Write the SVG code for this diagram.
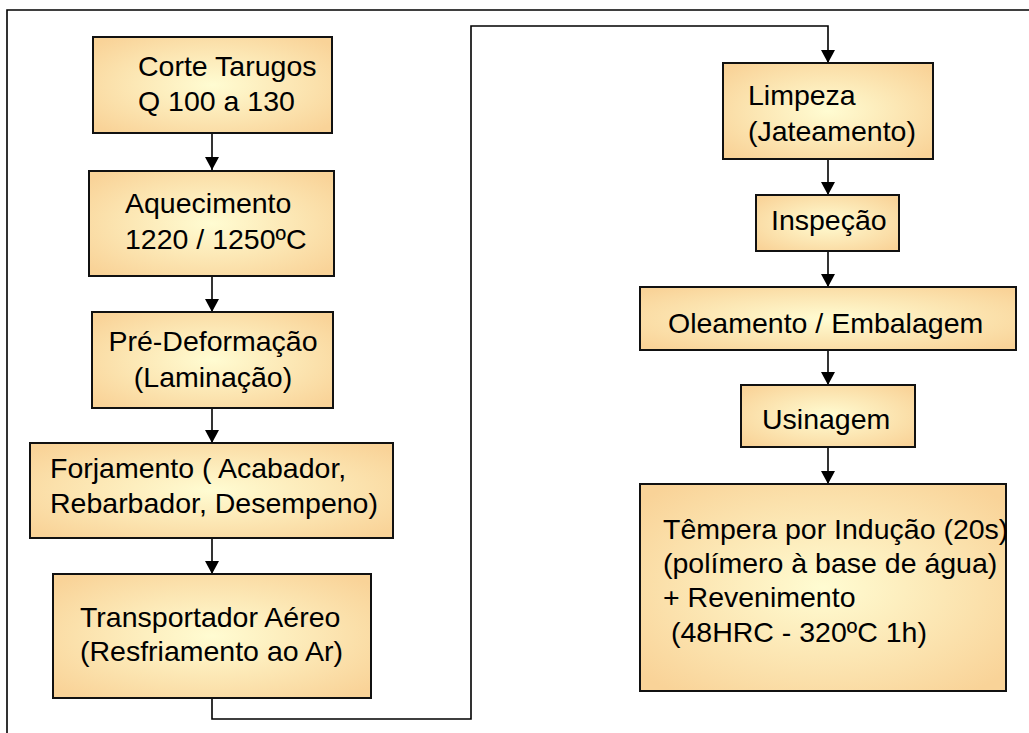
<svg xmlns="http://www.w3.org/2000/svg" width="1029" height="733" viewBox="0 0 1029 733">
<style>
.box{stroke:#111;stroke-width:2;fill:url(#g)}
.t{font-family:"Liberation Sans",Arial,sans-serif;font-size:28.5px;fill:#000}
.c{text-anchor:middle}
.ln{fill:none;stroke:#000;stroke-width:1.6}
</style>
<defs>
<radialGradient id="g" cx="50%" cy="50%" r="65%">
<stop offset="0" stop-color="#FFFCD2"/>
<stop offset="1" stop-color="#F9D398"/>
</radialGradient>
<marker id="a" markerUnits="userSpaceOnUse" markerWidth="14" markerHeight="14" refX="13" refY="7" orient="auto">
<path d="M0,0 L13,7 L0,14 Z" fill="#000"/>
</marker>
</defs>
<rect width="1029" height="733" fill="#fff"/>
<path d="M7,733 V10 H1029" fill="none" stroke="#000" stroke-width="1.6"/>
<g id="connectors">
<line class="ln" x1="212" y1="133" x2="212" y2="170" marker-end="url(#a)"/>
<line class="ln" x1="212" y1="276" x2="212" y2="312" marker-end="url(#a)"/>
<line class="ln" x1="212" y1="408" x2="212" y2="443" marker-end="url(#a)"/>
<line class="ln" x1="212" y1="538" x2="212" y2="574" marker-end="url(#a)"/>
<path class="ln" d="M212,698 V719 H471 V26 H828 V63" marker-end="url(#a)"/>
<line class="ln" x1="828" y1="159" x2="828" y2="195" marker-end="url(#a)"/>
<line class="ln" x1="828" y1="251" x2="828" y2="287" marker-end="url(#a)"/>
<line class="ln" x1="828" y1="350" x2="828" y2="385" marker-end="url(#a)"/>
<line class="ln" x1="828" y1="447" x2="828" y2="484" marker-end="url(#a)"/>
</g>
<g id="n1"><rect class="box" x="93" y="37" width="239" height="96"/>
<text class="t" x="138" y="76">Corte Tarugos</text><text class="t" x="138" y="111">Q 100 a 130</text></g>
<g id="n2"><rect class="box" x="89" y="171" width="245" height="105"/>
<text class="t" x="125" y="213">Aquecimento</text><text class="t" x="125" y="249">1220 / 1250ºC</text></g>
<g id="n3"><rect class="box" x="92" y="312" width="241" height="96"/>
<text class="t c" x="213" y="351">Pré-Deformação</text><text class="t c" x="213" y="387">(Laminação)</text></g>
<g id="n4"><rect class="box" x="30" y="443" width="363" height="95"/>
<text class="t" x="50" y="478">Forjamento ( Acabador,</text><text class="t" x="50" y="513">Rebarbador, Desempeno)</text></g>
<g id="n5"><rect class="box" x="53" y="574" width="318" height="124"/>
<text class="t" x="80" y="627">Transportador Aéreo</text><text class="t" x="80" y="661">(Resfriamento ao Ar)</text></g>
<g id="n6"><rect class="box" x="723" y="63" width="210" height="96"/>
<text class="t" x="748" y="105">Limpeza</text><text class="t" x="748" y="141">(Jateamento)</text></g>
<g id="n7"><rect class="box" x="756" y="195" width="143" height="56"/>
<text class="t" x="771" y="230">Inspeção</text></g>
<g id="n8"><rect class="box" x="640" y="287" width="376" height="63"/>
<text class="t" x="668" y="333">Oleamento / Embalagem</text></g>
<g id="n9"><rect class="box" x="741" y="385" width="174" height="62"/>
<text class="t" x="762" y="429">Usinagem</text></g>
<g id="n10"><rect class="box" x="640" y="484" width="366" height="207"/>
<text class="t" x="663" y="539">Têmpera por Indução (20s)</text>
<text class="t" x="663" y="573">(polímero à base de água)</text>
<text class="t" x="663" y="607">+ Revenimento</text>
<text class="t" x="671" y="642">(48HRC - 320ºC 1h)</text></g>
</svg>
